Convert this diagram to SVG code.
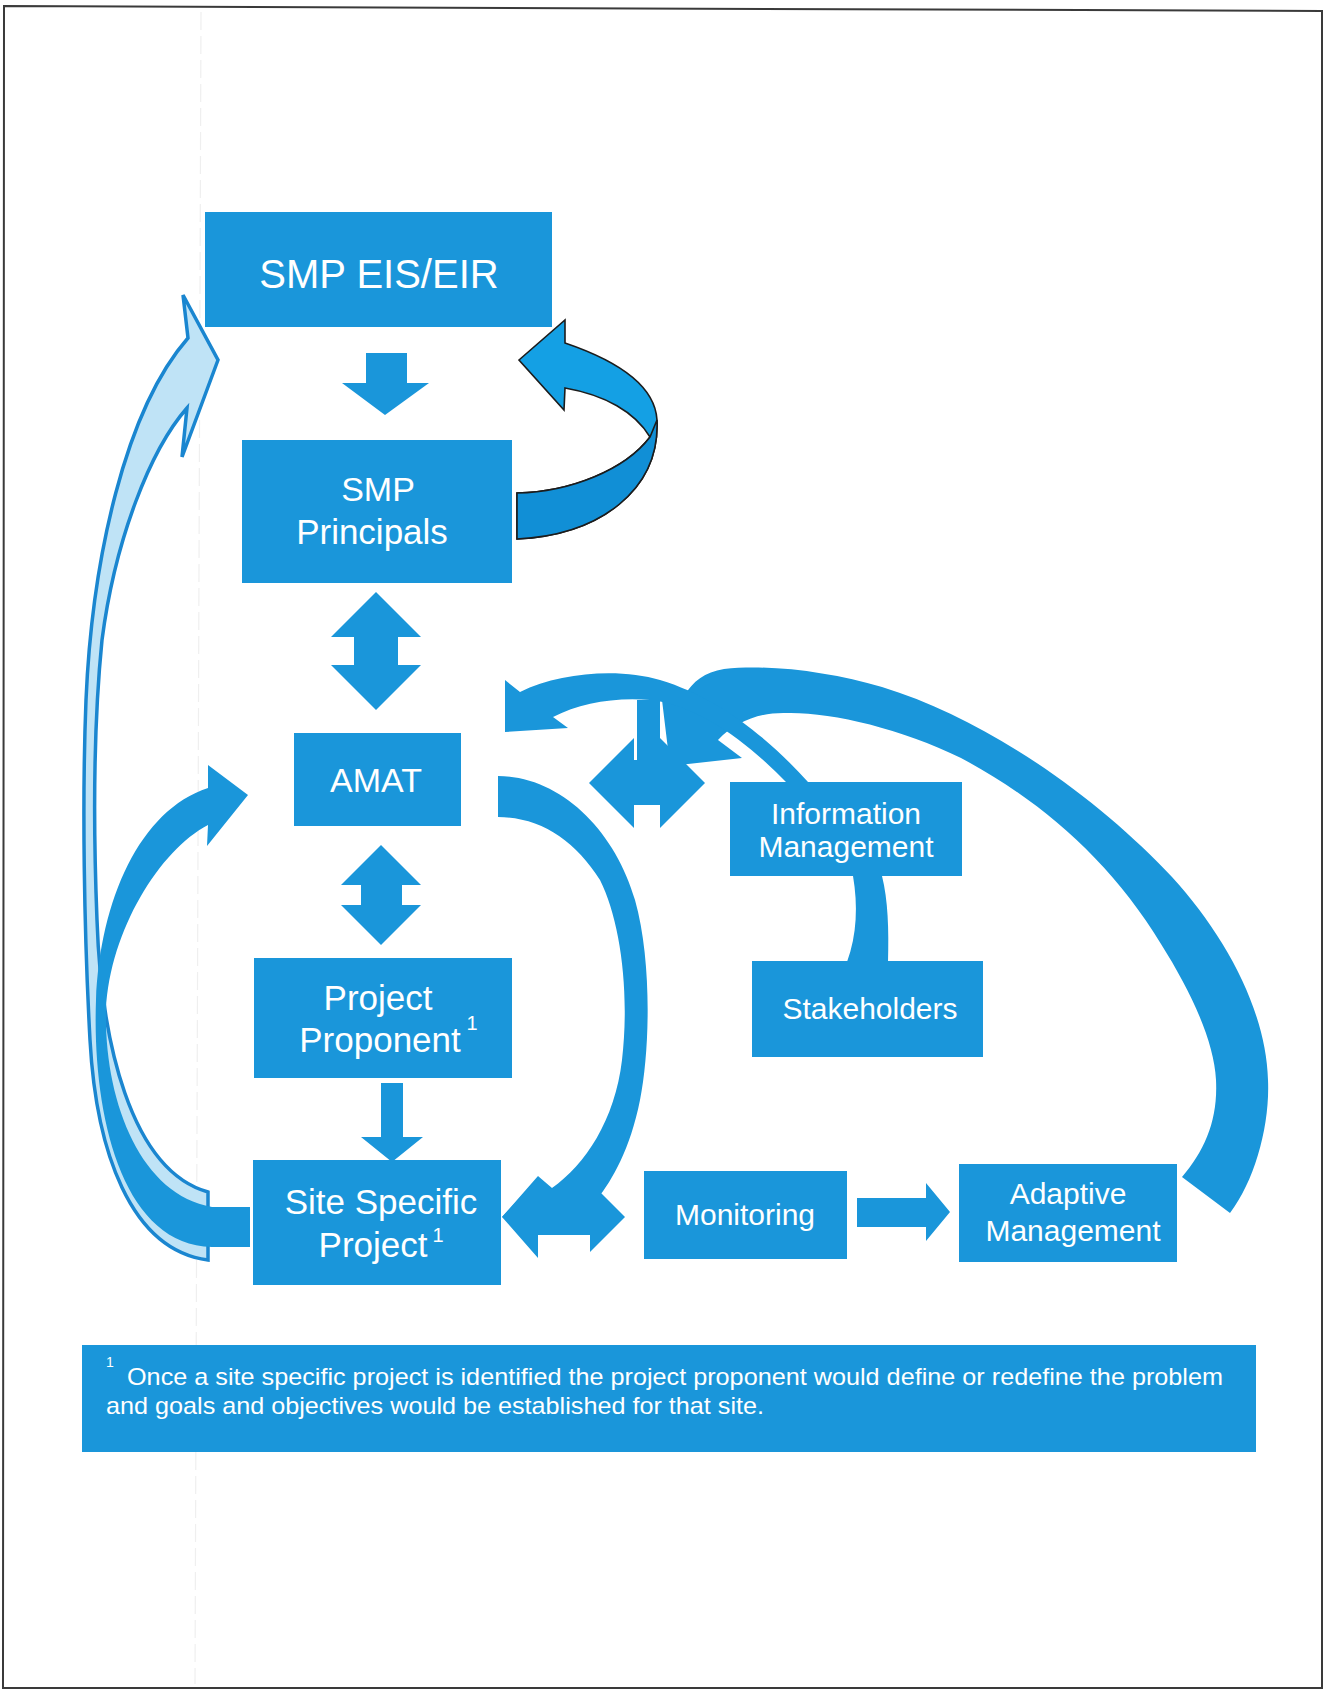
<svg xmlns="http://www.w3.org/2000/svg" width="1327" height="1690" viewBox="0 0 1327 1690">
  <style>
    .box { fill: #1a96da; }
    .arrow { fill: #1a96da; }
    .lbl { fill: #ffffff; font-family: "Liberation Sans", Arial, sans-serif; text-anchor: middle; }
    .note { fill: #ffffff; font-family: "Liberation Sans", Arial, sans-serif; }
  </style>

  <!-- page -->
  <rect x="0" y="0" width="1327" height="1690" fill="#ffffff"/>
  <line x1="201" y1="12" x2="195" y2="1684" stroke="#efefef" stroke-width="1.2" stroke-dasharray="18 6"/>
  <polygon points="4,6 1322,11 1322,1688 3,1688" fill="none" stroke="#3a3a3a" stroke-width="2"/>

  <!-- connectors -->
  <g id="connectors">
    <!-- Site Specific Project back up to SMP EIS/EIR (outlined, pale) -->
    <path d="M 218,360 L 182,457 L 187,408 C 150,450 115,540 102,640 C 94,720 93,820 97,920 C 101,1040 130,1170 208,1192 L 208,1260 C 130,1250 96,1150 90,1040 C 84,930 82,800 86,700 C 92,560 125,410 188,338 L 183,295 Z"
          fill="#bfe3f6" stroke="#1a86d0" stroke-width="3.5" stroke-linejoin="miter"/>

    <!-- Site Specific Project to AMAT -->
    <path class="arrow" d="M 248,795 L 207,846 L 208,825 C 160,850 110,930 106,1010 C 104,1100 140,1195 212,1207 L 250,1207 L 250,1247 L 212,1247 C 120,1245 92,1110 96,1000 C 100,900 140,810 208,788 L 208,765 Z"/>

    <!-- SMP Principals loop back to SMP EIS/EIR -->
    <path d="M 517,493 C 570,492 625,470 650,437 C 635,412 605,395 565,388 L 564,410 L 519,360 L 565,320 L 565,343 C 615,360 655,385 657,420 C 660,490 600,535 517,539 Z"
          fill="#14a0e4" stroke="#1c1c1c" stroke-width="1.6" stroke-linejoin="miter"/>
    <path d="M 517,493 C 570,492 625,470 650,437 L 657,420 C 660,490 600,535 517,539 Z"
          fill="#118fd6" stroke="#1c1c1c" stroke-width="1.6"/>

    <!-- SMP EIS/EIR down to SMP Principals -->
    <path class="arrow" d="M 366,353 L 407,353 L 407,383 L 429,383 L 385,415 L 342,383 L 366,383 Z"/>

    <!-- SMP Principals <-> AMAT -->
    <path class="arrow" d="M 376,592 L 421,637 L 398,637 L 398,665 L 421,665 L 376,710 L 331,665 L 354,665 L 354,637 L 331,637 Z"/>

    <!-- AMAT <-> Project Proponent -->
    <path class="arrow" d="M 381,845 L 421,885 L 402,885 L 402,905 L 421,905 L 381,945 L 341,905 L 361,905 L 361,885 L 341,885 Z"/>

    <!-- Project Proponent down to Site Specific Project -->
    <path class="arrow" d="M 381,1083 L 403,1083 L 403,1137 L 423,1137 L 392,1162 L 361,1137 L 381,1137 Z"/>

    <!-- AMAT round to Site Specific Project -->
    <path class="arrow" d="M 498,776 C 560,776 615,830 635,900 C 652,960 650,1050 640,1100 C 630,1150 612,1180 598,1198 L 556,1228 L 502,1217 L 538,1176 L 552,1188 C 585,1165 615,1120 622,1060 C 630,990 620,920 600,880 C 575,840 540,817 498,817 Z"/>

    <!-- Site Specific Project <-> Monitoring -->
    <path class="arrow" d="M 502,1217 L 538,1178 L 538,1199 L 590,1199 L 590,1182 L 625,1217 L 590,1252 L 590,1235 L 538,1235 L 538,1258 Z"/>

    <!-- Monitoring to Adaptive Management -->
    <path class="arrow" d="M 857,1198 L 926,1198 L 926,1183 L 950,1212 L 926,1241 L 926,1227 L 857,1227 Z"/>

    <!-- Adaptive Management round to AMAT -->
    <path class="arrow" d="M 1230,1213 C 1255,1180 1270,1125 1268,1080 C 1266,1010 1225,935 1172,877 C 1100,800 990,720 882,687 C 830,672 770,664 724,669 C 705,672 692,682 685,695 L 662,700 L 670,766 L 742,758 L 718,740 C 735,722 760,712 787,713 C 830,712 900,728 961,758 C 1040,800 1110,860 1161,944 C 1190,990 1214,1040 1216,1080 C 1218,1120 1205,1150 1182,1177 Z"/>

    <!-- Information Management to AMAT -->
    <path class="arrow" d="M 505,732 L 505,680 L 520,692 C 560,672 620,668 660,680 C 720,698 770,740 808,782 L 786,782 C 750,745 700,705 650,700 C 615,697 580,703 553,717 L 568,728 Z"/>

    <!-- AMAT <-> Information Management -->
    <path class="arrow" d="M 589,783 L 634,738 L 634,760 L 637,760 L 637,700 L 660,700 L 660,738 L 705,783 L 660,828 L 660,805 L 634,805 L 634,828 Z"/>

    <!-- Information Management - Stakeholders -->
    <path class="arrow" d="M 853,876 C 858,905 857,935 847,962 L 888,962 C 889,930 888,900 882,876 Z"/>
  </g>

  <!-- nodes -->
  <g id="smp-eis-eir">
    <rect class="box" x="205" y="212" width="347" height="115"/>
    <text class="lbl" x="379" y="288" font-size="40">SMP EIS/EIR</text>
  </g>

  <g id="smp-principals">
    <rect class="box" x="242" y="440" width="270" height="143"/>
    <text class="lbl" x="378" y="501" font-size="34">SMP</text>
    <text class="lbl" x="372" y="544" font-size="35">Principals</text>
  </g>

  <g id="amat">
    <rect class="box" x="294" y="733" width="167" height="93"/>
    <text class="lbl" x="376" y="792" font-size="34">AMAT</text>
  </g>

  <g id="project-proponent">
    <rect class="box" x="254" y="958" width="258" height="120"/>
    <text class="lbl" x="378" y="1010" font-size="35">Project</text>
    <text class="lbl" x="380" y="1052" font-size="35">Proponent</text>
    <text class="lbl" x="472" y="1030" font-size="20">1</text>
  </g>

  <g id="site-specific-project">
    <rect class="box" x="253" y="1160" width="248" height="125"/>
    <text class="lbl" x="381" y="1214" font-size="35">Site Specific</text>
    <text class="lbl" x="373" y="1257" font-size="35">Project</text>
    <text class="lbl" x="438" y="1242" font-size="20">1</text>
  </g>

  <g id="monitoring">
    <rect class="box" x="644" y="1171" width="203" height="88"/>
    <text class="lbl" x="745" y="1225" font-size="30">Monitoring</text>
  </g>

  <g id="adaptive-management">
    <rect class="box" x="959" y="1164" width="218" height="98"/>
    <text class="lbl" x="1068" y="1204" font-size="30">Adaptive</text>
    <text class="lbl" x="1073" y="1241" font-size="30">Management</text>
  </g>

  <g id="information-management">
    <rect class="box" x="730" y="782" width="232" height="94"/>
    <text class="lbl" x="846" y="824" font-size="30">Information</text>
    <text class="lbl" x="846" y="857" font-size="30">Management</text>
  </g>

  <g id="stakeholders">
    <rect class="box" x="752" y="961" width="231" height="96"/>
    <text class="lbl" x="870" y="1019" font-size="30">Stakeholders</text>
  </g>

  <g id="footnote">
    <rect class="box" x="82" y="1345" width="1174" height="107"/>
    <text class="note" x="106" y="1367" font-size="14">1</text>
    <text class="note" x="127" y="1385" font-size="24" textLength="1096" lengthAdjust="spacingAndGlyphs">Once a site specific project is identified the project proponent would define or redefine the problem</text>
    <text class="note" x="106" y="1414" font-size="24" textLength="658" lengthAdjust="spacingAndGlyphs">and goals and objectives would be established for that site.</text>
  </g>
</svg>
